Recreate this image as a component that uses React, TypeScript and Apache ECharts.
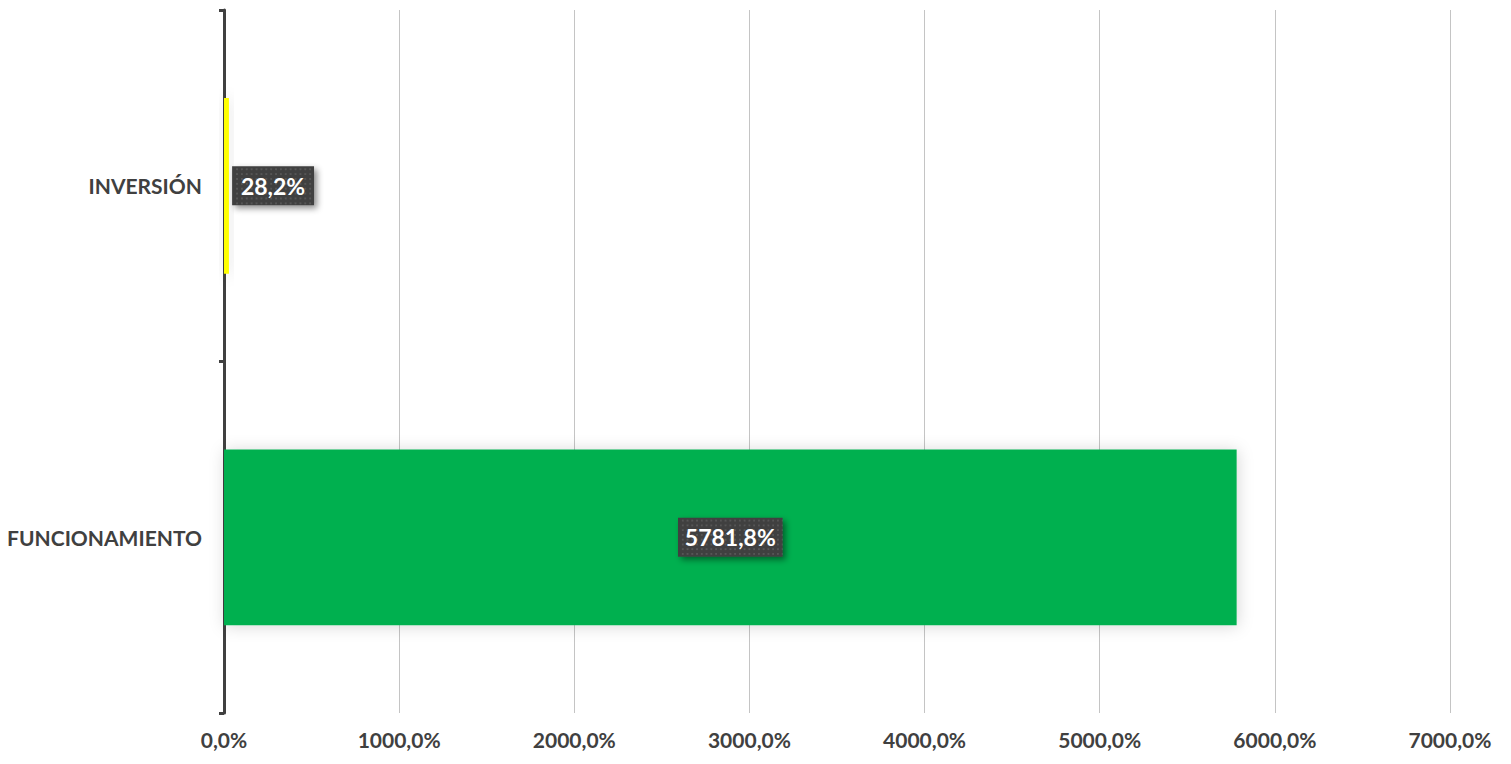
import React, { useEffect, useRef } from "react";
import * as echarts from "echarts";

const categories = ["FUNCIONAMIENTO", "INVERSIÓN"];
const values = [5781.8, 28.2];
const barColors = ["#00B050", "#FFFF00"];
const labelPositions = ["inside", "right"];
const xTicks = { min: 0, max: 7000, interval: 1000 };

const fmt = (v: number) => v.toFixed(1).replace(".", ",") + "%";

function dotPattern(w: number, h: number): string {
  const c = document.createElement("canvas");
  c.width = w;
  c.height = h;
  const ctx = c.getContext("2d");
  if (!ctx) return "";
  ctx.fillStyle = "#404040";
  ctx.fillRect(0, 0, w, h);
  ctx.fillStyle = "#565656";
  for (let y = 2; y < h; y += 5) {
    for (let x = (y / 5) % 2 ? 4 : 1.5; x < w; x += 5) {
      ctx.fillRect(Math.round(x), y, 2, 2);
    }
  }
  return c.toDataURL();
}

export default function App() {
  const ref = useRef<HTMLDivElement>(null);
  useEffect(() => {
    if (!ref.current) return;
    const chart = echarts.init(ref.current, null, { renderer: "svg" });
    const font = "Lato, 'Open Sans', sans-serif";
    const boxSizes = [
      [110, 41],
      [84, 40],
    ];
    chart.setOption({
      animation: false,
      backgroundColor: "#ffffff",
      grid: { left: 224, right: 61, top: 10, bottom: 51, containLabel: false },
      xAxis: {
        type: "value",
        min: xTicks.min,
        max: xTicks.max,
        interval: xTicks.interval,
        axisLine: { show: false },
        axisTick: { show: false },
        splitLine: { show: true, lineStyle: { color: "#c4c4c4", width: 1 } },
        axisLabel: {
          formatter: (v: number) => fmt(v),
          color: "#404040",
          fontFamily: font,
          fontWeight: "bold",
          fontSize: 21,
          margin: 16,
        },
      },
      yAxis: {
        type: "category",
        data: categories,
        axisLine: { show: true, lineStyle: { color: "#404040", width: 3 } },
        axisTick: { show: true, length: 5, lineStyle: { color: "#404040", width: 3 } },
        axisLabel: {
          color: "#404040",
          fontFamily: font,
          fontWeight: "bold",
          fontSize: 21,
          margin: 22,
        },
      },
      series: [
        {
          type: "bar",
          barWidth: "50%",
          data: values.map((v, i) => ({
            value: v,
            itemStyle: {
              color: barColors[i],
              shadowBlur: 16,
              shadowColor: "rgba(0,0,0,0.16)",
              shadowOffsetX: 1,
              shadowOffsetY: 1,
            },
            label: {
              position: labelPositions[i],
              backgroundColor: { image: dotPattern(boxSizes[i][0], boxSizes[i][1]) },
            },
          })),
          label: {
            show: true,
            formatter: (p: any) => fmt(p.value),
            color: "#ffffff",
            fontFamily: font,
            fontWeight: "bold",
            fontSize: 23,
            padding: [9, 10, 7, 10],
            distance: 2,
            shadowBlur: 6,
            shadowColor: "rgba(0,0,0,0.45)",
            shadowOffsetX: 3,
            shadowOffsetY: 3,
          },
        },
      ],
    });
    return () => chart.dispose();
  }, []);
  return <div ref={ref} style={{ width: 1511, height: 764, position: "absolute", left: 0, top: 0 }} />;
}
